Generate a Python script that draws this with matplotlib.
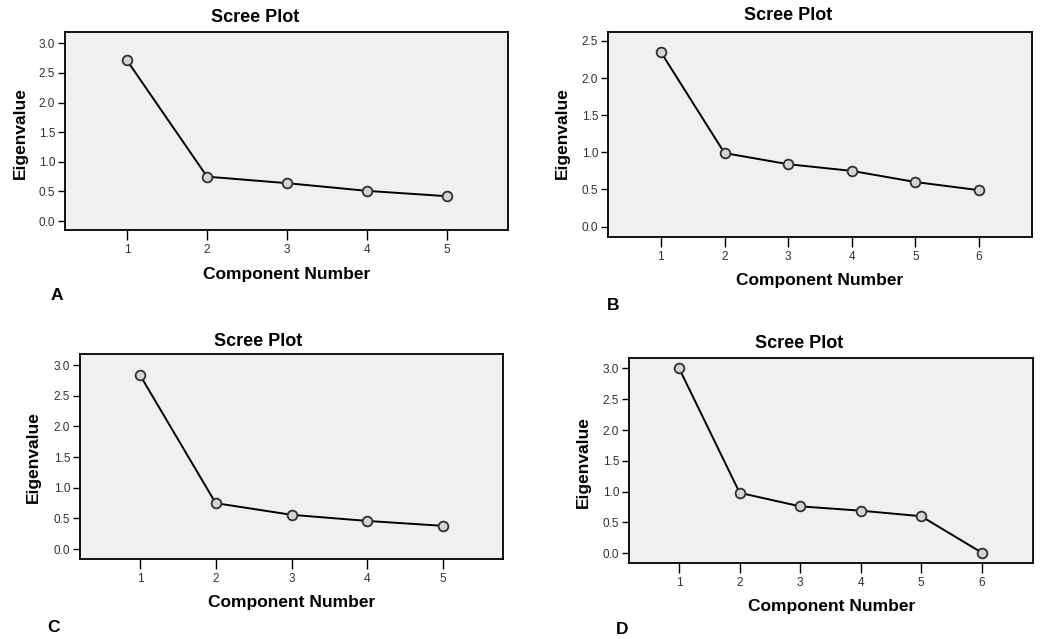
import numpy as np
import matplotlib.pyplot as plt

plt.rcParams['font.family'] = ['Liberation Sans', 'DejaVu Sans']

W, H = 1040, 639

# eigenvalues
components_a = [1, 2, 3, 4, 5]
eigen_a = [2.71, 0.75, 0.64, 0.51, 0.42]
components_b = [1, 2, 3, 4, 5, 6]
eigen_b = [2.35, 0.99, 0.84, 0.75, 0.60, 0.49]
components_c = [1, 2, 3, 4, 5]
eigen_c = [2.84, 0.75, 0.56, 0.46, 0.38]
components_d = [1, 2, 3, 4, 5, 6]
eigen_d = [3.00, 0.98, 0.76, 0.69, 0.60, 0.01]

panel_letters = ["A", "B", "C", "D"]

# layout in pixels: axes box (left, right, top, bottom), limits, text positions
panels = [
    dict(x=components_a, y=eigen_a, box=(65, 508, 32, 230), xlim=(0.225, 5.76), ylim=(-0.15, 3.19),
         yticks=[0, 0.5, 1, 1.5, 2, 2.5, 3], title=(255, 18), xlab=(287, 274), ylab=(20, 133), letter=(57, 296)),
    dict(x=components_b, y=eigen_b, box=(608, 1032, 32, 237), xlim=(0.17, 6.83), ylim=(-0.14, 2.62),
         yticks=[0, 0.5, 1, 1.5, 2, 2.5], title=(788, 16), xlab=(820, 280), ylab=(562, 133), letter=(613, 305)),
    dict(x=components_c, y=eigen_c, box=(80, 503, 354, 559), xlim=(0.21, 5.79), ylim=(-0.16, 3.18),
         yticks=[0, 0.5, 1, 1.5, 2, 2.5, 3], title=(258, 341), xlab=(292, 603), ylab=(33, 457), letter=(53, 628)),
    dict(x=components_d, y=eigen_d, box=(629, 1033, 358, 563), xlim=(0.17, 6.85), ylim=(-0.16, 3.17),
         yticks=[0, 0.5, 1, 1.5, 2, 2.5, 3], title=(799, 344), xlab=(832, 607), ylab=(583, 462), letter=(622, 629)),
]

fig = plt.figure(figsize=(W / 100, H / 100), dpi=100)
fig.patch.set_facecolor("white")

for p, letter in zip(panels, panel_letters):
    l, r, t, b = p["box"]
    ax = fig.add_axes([l / W, 1 - b / H, (r - l) / W, (b - t) / H])
    ax.set_facecolor("#f0f0f0")
    ax.plot(p["x"], p["y"], color="black", lw=1.4, marker="o", markersize=7,
            markerfacecolor="#d4d4d4", markeredgecolor="#303030", markeredgewidth=1.3)
    ax.set_xlim(*p["xlim"])
    ax.set_ylim(*p["ylim"])
    ax.set_xticks(p["x"])
    ax.set_yticks(p["yticks"])
    ax.set_yticklabels([f"{v:.1f}" for v in p["yticks"]])
    ax.tick_params(direction="out", width=1, labelsize=8.5, labelcolor="#303030")
    ax.tick_params(axis="x", length=7, pad=3)
    ax.tick_params(axis="y", length=5, pad=2)
    for s in ax.spines.values():
        s.set_linewidth(1.3)

    fig.text(p["title"][0] / W, 1 - p["title"][1] / H, "Scree Plot", ha="center", va="center",
             fontsize=13, fontweight="bold")
    fig.text(p["xlab"][0] / W, 1 - p["xlab"][1] / H, "Component Number", ha="center", va="center",
             fontsize=12.5, fontweight="bold")
    fig.text(p["ylab"][0] / W, 1 - p["ylab"][1] / H, "Eigenvalue", ha="center", va="center",
             rotation=90, fontsize=12.5, fontweight="bold")
    fig.text(p["letter"][0] / W, 1 - p["letter"][1] / H, letter, ha="center", va="center",
             fontsize=12.5, fontweight="bold")

fig.savefig("out.png", dpi=100)
